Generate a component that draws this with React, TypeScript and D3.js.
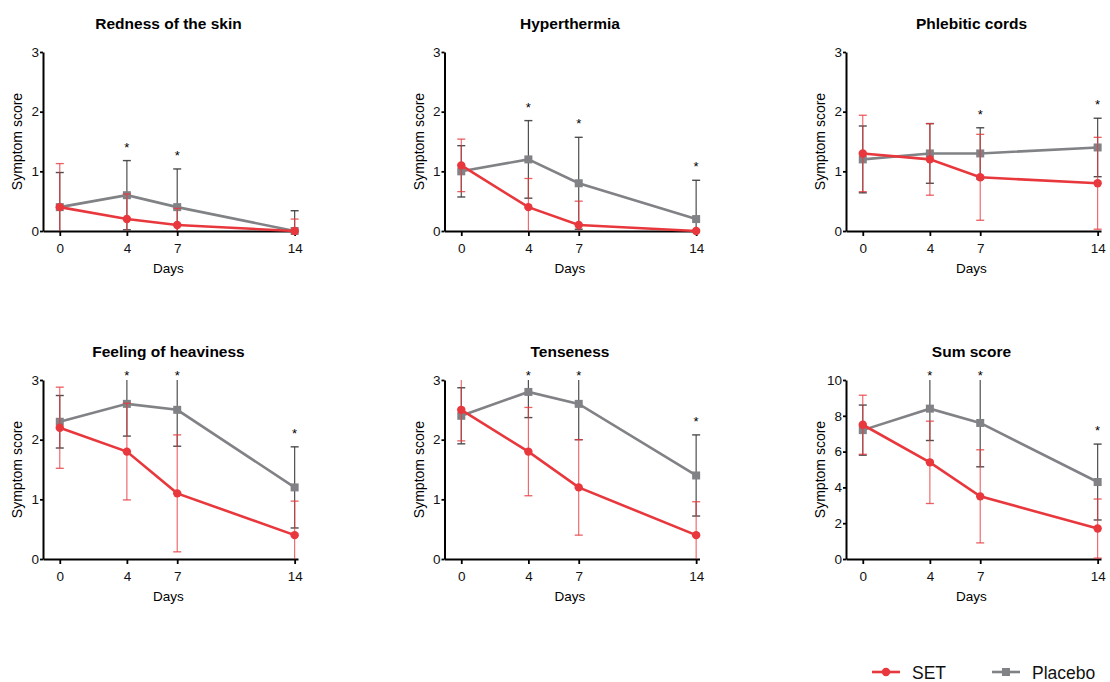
import React, { useEffect, useRef } from 'react';
import * as d3 from 'd3';

const days = [0, 4, 7, 14];
const titles = ['Redness of the skin', 'Hyperthermia', 'Phlebitic cords', 'Feeling of heaviness', 'Tenseness', 'Sum score'];
const yMaxes = [3, 3, 3, 3, 3, 10];
const yTickSets = [[0, 1, 2, 3], [0, 1, 2, 3], [0, 1, 2, 3], [0, 1, 2, 3], [0, 1, 2, 3], [0, 2, 4, 6, 8, 10]];

// mean and SD per panel, one row per panel, one value per day
const setMeans = [
  [0.4, 0.2, 0.1, 0.0],
  [1.1, 0.4, 0.1, 0.0],
  [1.3, 1.2, 0.9, 0.8],
  [2.2, 1.8, 1.1, 0.4],
  [2.5, 1.8, 1.2, 0.4],
  [7.5, 5.4, 3.5, 1.7],
];
const setSds = [
  [0.73, 0.42, 0.28, 0.2],
  [0.44, 0.48, 0.4, 0],
  [0.64, 0.6, 0.72, 0.77],
  [0.68, 0.81, 0.98, 0.57],
  [0.52, 0.74, 0.8, 0.56],
  [1.65, 2.3, 2.6, 1.65],
];
const placeboMeans = [
  [0.4, 0.6, 0.4, 0.0],
  [1.0, 1.2, 0.8, 0.2],
  [1.2, 1.3, 1.3, 1.4],
  [2.3, 2.6, 2.5, 1.2],
  [2.4, 2.8, 2.6, 1.4],
  [7.2, 8.4, 7.6, 4.3],
];
const placeboSds = [
  [0.58, 0.58, 0.64, 0.34],
  [0.43, 0.65, 0.77, 0.65],
  [0.56, 0.5, 0.43, 0.49],
  [0.44, 0.54, 0.61, 0.68],
  [0.47, 0.43, 0.6, 0.68],
  [1.4, 1.78, 2.45, 2.12],
];
const starDays = [[4, 7], [4, 7, 14], [7, 14], [4, 7, 14], [4, 7, 14], [4, 7, 14]];
const seriesNames = ['SET', 'Placebo'];

const RED = '#e8383d';
const GRAY = '#808285';
const FONT = '"Liberation Sans", Arial, Helvetica, sans-serif';

export default function App() {
  const ref = useRef<SVGSVGElement>(null);

  useEffect(() => {
    document.body.style.margin = '0';
    const svg = d3.select(ref.current);
    svg.selectAll('*').remove();

    const colX = [43, 444.5, 846];
    const rowTop = [52, 380];
    const plotW = 255;
    const plotH = 179;

    titles.forEach((title, i) => {
      const left = colX[i % 3];
      const top = rowTop[Math.floor(i / 3)];
      const bottom = top + plotH;
      const yMax = yMaxes[i];
      const x = d3.scaleLinear().domain([-1, 14.2]).range([left, left + plotW]);
      const y = d3.scaleLinear().domain([0, yMax]).range([bottom, top]);
      const g = svg.append('g');

      g.append('text')
        .attr('x', left + plotW / 2 - 2)
        .attr('y', top - 23)
        .attr('text-anchor', 'middle')
        .attr('font-family', FONT)
        .attr('font-weight', 'bold')
        .attr('font-size', 15.5)
        .text(title);

      // axes
      const xAx = g.append('g')
        .attr('transform', `translate(0,${bottom})`)
        .call(d3.axisBottom(x).tickValues(days).tickSize(5).tickSizeOuter(0));
      xAx.selectAll('text').attr('y', 22).attr('dy', null)
        .attr('font-size', 13.5).attr('font-family', FONT).attr('fill', '#111');

      const yAx = g.append('g')
        .attr('transform', `translate(${left},0)`)
        .call(d3.axisLeft(y).tickValues(yTickSets[i]).tickFormat(d3.format('d')).tickSize(3).tickPadding(1).tickSizeOuter(0));
      yAx.selectAll('text').attr('font-size', 13.5).attr('font-family', FONT).attr('fill', '#111');

      [xAx, yAx].forEach(a => {
        a.select('.domain').attr('stroke', '#000').attr('stroke-width', 2);
        a.selectAll('.tick line').attr('stroke', '#000').attr('stroke-width', 1.8);
      });

      g.append('text')
        .attr('x', left + plotW / 2 - 2)
        .attr('y', bottom + 42)
        .attr('text-anchor', 'middle')
        .attr('font-family', FONT)
        .attr('font-size', 13.5)
        .text('Days');

      g.append('text')
        .attr('transform', `translate(${left - 21},${(top + bottom) / 2}) rotate(-90)`)
        .attr('text-anchor', 'middle')
        .attr('font-family', FONT)
        .attr('font-size', 14)
        .text('Symptom score');

      const drawErrors = (means: number[], sds: number[], color: string, width: number, opacity: number) => {
        days.forEach((d, k) => {
          const sd = sds[k];
          if (!sd) return;
          const up = means[k] + sd;
          const lo = means[k] - sd;
          const cx = x(d);
          g.append('line')
            .attr('x1', cx).attr('x2', cx)
            .attr('y1', y(Math.max(0, lo))).attr('y2', y(Math.min(yMax, up)))
            .attr('stroke', color).attr('stroke-width', width).attr('opacity', opacity);
          // caps only where the bar end is inside the axis range
          if (up <= yMax) {
            g.append('line').attr('x1', cx - 4).attr('x2', cx + 4).attr('y1', y(up)).attr('y2', y(up))
              .attr('stroke', color).attr('stroke-width', width + 0.2).attr('opacity', opacity);
          }
          if (lo >= 0) {
            g.append('line').attr('x1', cx - 4).attr('x2', cx + 4).attr('y1', y(lo)).attr('y2', y(lo))
              .attr('stroke', color).attr('stroke-width', width + 0.2).attr('opacity', opacity);
          }
        });
      };

      const line = d3.line<number>().x((_, k) => x(days[k])).y(v => y(v));

      // placebo
      drawErrors(placeboMeans[i], placeboSds[i], '#3c3c3c', 1.2, 0.9);
      g.append('path').attr('d', line(placeboMeans[i]))
        .attr('fill', 'none').attr('stroke', GRAY).attr('stroke-width', 2.6);
      g.selectAll('.sq').data(placeboMeans[i]).enter().append('rect')
        .attr('x', (_, k) => x(days[k]) - 4).attr('y', v => y(v) - 4)
        .attr('width', 8).attr('height', 8).attr('fill', GRAY);

      // SET
      drawErrors(setMeans[i], setSds[i], RED, 1.1, 0.8);
      g.append('path').attr('d', line(setMeans[i]))
        .attr('fill', 'none').attr('stroke', RED).attr('stroke-width', 2.6);
      g.selectAll('.dot').data(setMeans[i]).enter().append('circle')
        .attr('cx', (_, k) => x(days[k])).attr('cy', v => y(v))
        .attr('r', 4.2).attr('fill', RED);

      // significance stars
      starDays[i].forEach(d => {
        const k = days.indexOf(d);
        const hi = Math.max(setMeans[i][k] + setSds[i][k], placeboMeans[i][k] + placeboSds[i][k]);
        const cy = hi > yMax ? top - 6 : y(hi) - 15;
        g.append('text')
          .attr('x', x(d)).attr('y', cy + 6)
          .attr('text-anchor', 'middle')
          .attr('font-family', FONT).attr('font-size', 13)
          .text('*');
      });
    });

    // legend
    const lg = svg.append('g').attr('font-family', FONT).attr('font-size', 17.5);
    const legendX = [872, 992];
    seriesNames.forEach((name, k) => {
      const lx = legendX[k];
      const col = k === 0 ? RED : GRAY;
      lg.append('line').attr('x1', lx).attr('x2', lx + 28).attr('y1', 672).attr('y2', 672)
        .attr('stroke', col).attr('stroke-width', 2.6);
      if (k === 0) lg.append('circle').attr('cx', lx + 14).attr('cy', 672).attr('r', 4.2).attr('fill', col);
      else lg.append('rect').attr('x', lx + 10).attr('y', 668).attr('width', 8).attr('height', 8).attr('fill', col);
      lg.append('text').attr('x', lx + 40).attr('y', 678.5).attr('fill', '#111').text(name);
    });
  }, []);

  return <svg ref={ref} width={1110} height={682} style={{ display: 'block', background: '#fff' }} />;
}
